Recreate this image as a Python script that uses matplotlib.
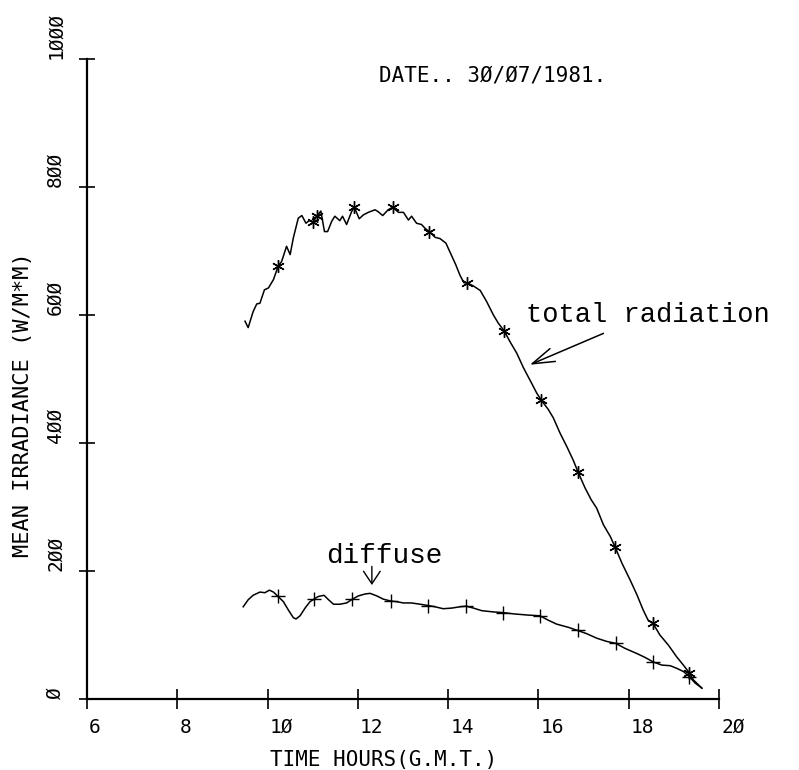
import matplotlib
matplotlib.use("Agg")
import matplotlib.pyplot as plt
import matplotlib.transforms as mtransforms

# Total radiation (W/m^2) against time of day (hours GMT)
total_hours = [9.50, 9.57, 9.68, 9.76, 9.83, 9.93, 10.02, 10.13, 10.24, 10.31,
               10.42, 10.50, 10.57, 10.68, 10.76, 10.85, 10.92, 11.01, 11.09, 11.18,
               11.26, 11.33, 11.42, 11.49, 11.60, 11.66, 11.75, 11.86, 11.92, 12.03,
               12.12, 12.23, 12.38, 12.45, 12.55, 12.67, 12.77, 12.90, 13.01, 13.12,
               13.19, 13.30, 13.41, 13.49, 13.58, 13.71, 13.82, 13.95, 14.04, 14.17,
               14.26, 14.35, 14.42, 14.56, 14.71, 14.85, 15.00, 15.11, 15.24, 15.37,
               15.52, 15.67, 15.85, 15.96, 16.06, 16.22, 16.33, 16.48, 16.63, 16.77,
               16.88, 17.03, 17.17, 17.29, 17.44, 17.59, 17.70, 17.85, 18.03, 18.18,
               18.32, 18.43, 18.53, 18.69, 18.88, 19.06, 19.21, 19.34, 19.43, 19.62]
total_wm2 = [590, 580, 605, 617, 618, 639, 642, 655, 677, 683,
             707, 694, 720, 751, 755, 743, 747, 745, 754, 762,
             730, 730, 746, 754, 747, 754, 741, 761, 768, 750,
             756, 760, 764, 761, 755, 764, 768, 760, 760, 748,
             754, 743, 741, 735, 730, 721, 719, 712, 698, 678,
             662, 650, 650, 645, 638, 621, 600, 587, 575, 558,
             540, 517, 493, 478, 467, 452, 439, 415, 394, 373,
             354, 330, 311, 298, 272, 254, 237, 212, 186, 163,
             139, 123, 119, 100, 84, 66, 53, 41, 30, 17]
total_marker_hours = [10.24, 11.01, 11.09, 11.92, 12.77, 13.58, 14.42, 15.24,
                      16.06, 16.88, 17.70, 18.53, 19.34]

# Diffuse radiation (W/m^2)
diffuse_hours = [9.46, 9.57, 9.68, 9.83, 9.94, 10.04, 10.13, 10.22, 10.35, 10.46,
                 10.57, 10.63, 10.72, 10.83, 10.94, 11.03, 11.12, 11.25, 11.35, 11.46,
                 11.60, 11.75, 11.88, 12.01, 12.16, 12.27, 12.42, 12.56, 12.73, 12.86,
                 13.01, 13.19, 13.38, 13.56, 13.71, 13.89, 14.08, 14.26, 14.40, 14.56,
                 14.74, 15.00, 15.21, 15.44, 15.78, 16.03, 16.22, 16.40, 16.66, 16.87,
                 17.07, 17.29, 17.51, 17.71, 17.92, 18.18, 18.36, 18.54, 18.73, 18.92,
                 19.06, 19.21, 19.34, 19.47, 19.62]
diffuse_wm2 = [144, 155, 162, 167, 166, 170, 167, 161, 152, 139,
               127, 125, 130, 142, 152, 156, 160, 162, 155, 148,
               148, 150, 156, 161, 164, 165, 161, 156, 153, 152,
               150, 150, 148, 146, 144, 141, 142, 144, 145, 142,
               138, 136, 135, 133, 131, 130, 123, 117, 112, 107,
               102, 95, 90, 87, 79, 71, 65, 58, 53, 52,
               48, 43, 35, 25, 17]
diffuse_marker_hours = [10.22, 11.03, 11.88, 12.73, 13.56, 14.40, 15.21, 16.03,
                        16.87, 17.71, 18.54, 19.34]

x_ticks = [6, 8, 10, 12, 14, 16, 18, 20]
x_tick_labels = ["6", "8", "1Ø", "12", "14", "16", "18", "2Ø"]
y_ticks = [0, 200, 400, 600, 800, 1000]
y_tick_labels = ["Ø", "2ØØ", "4ØØ", "6ØØ", "8ØØ", "1ØØØ"]

date_text = "DATE.. 3Ø/Ø7/1981."
x_label = "TIME HOURS(G.M.T.)"
y_label = "MEAN IRRADIANCE (W/M*M)"
total_note = "total radiation"
diffuse_note = "diffuse"

PLOT_FONT = "DejaVu Sans Mono"
NOTE_FONT = "Liberation Mono"

fig = plt.figure(figsize=(7.99, 7.70), dpi=100)
ax = fig.add_axes([0.1089, 0.0922, 0.791, 0.8316])
ax.set_xlim(6, 20)
ax.set_ylim(0, 1000)

for side in ("top", "right"):
    ax.spines[side].set_visible(False)
for side in ("left", "bottom"):
    ax.spines[side].set_linewidth(1.6)
    ax.spines[side].set_color("black")

total_marks = [total_hours.index(h) for h in total_marker_hours]
diffuse_marks = [diffuse_hours.index(h) for h in diffuse_marker_hours]

ax.plot(total_hours, total_wm2, color="black", lw=1.1,
        marker=(6, 2, 0), markersize=9, markeredgewidth=1.0,
        markevery=total_marks, clip_on=False)
ax.plot(diffuse_hours, diffuse_wm2, color="black", lw=1.1,
        marker="+", markersize=10, markeredgewidth=1.0,
        markevery=diffuse_marks, clip_on=False)

# Axis ticks crossing the axis lines
ax.set_xticks(x_ticks, labels=x_tick_labels)
ax.set_yticks(y_ticks, labels=y_tick_labels)
ax.tick_params(axis="x", direction="inout", length=14.5, width=1.2, pad=6.5,
               labelsize=14)
ax.tick_params(axis="y", direction="inout", length=12, width=1.2, pad=10,
               labelsize=14)

shift = mtransforms.ScaledTranslation(0.02, 0, fig.dpi_scale_trans)
for lab in ax.get_xticklabels():
    lab.set_fontfamily(PLOT_FONT)
    lab.set_horizontalalignment("left")
    lab.set_transform(lab.get_transform() + shift)
for lab in ax.get_yticklabels():
    lab.set_fontfamily(PLOT_FONT)
    lab.set_rotation(90)
    lab.set_verticalalignment("bottom")

ax.set_xlabel(x_label, fontfamily=PLOT_FONT, fontsize=15)
ax.xaxis.set_label_coords(0.47, -0.079)
ax.set_ylabel(y_label, fontfamily=PLOT_FONT, fontsize=15.8)
ax.yaxis.set_label_coords(-0.0854, 0.46)

ax.text(12.47, 964, date_text, fontfamily=PLOT_FONT, fontsize=15,
        ha="left", va="baseline")

# Hand-written style notes with arrows
ax.text(15.73, 589, total_note, fontfamily=NOTE_FONT, fontsize=19.5,
        ha="left", va="baseline")
ax.annotate("", xy=(15.81, 522), xytext=(17.44, 571),
            arrowprops=dict(arrowstyle="->,head_length=0.8,head_width=0.25",
                            mutation_scale=20, lw=1.1, color="black",
                            shrinkA=0, shrinkB=0))

ax.text(11.29, 212.5, diffuse_note, fontfamily=NOTE_FONT, fontsize=20,
        ha="left", va="baseline")
ax.annotate("", xy=(12.31, 178), xytext=(12.31, 207),
            arrowprops=dict(arrowstyle="->,head_length=0.45,head_width=0.3",
                            mutation_scale=20, lw=1.0, color="black",
                            shrinkA=0, shrinkB=0))

fig.savefig("out.png", dpi=100, facecolor="white")
